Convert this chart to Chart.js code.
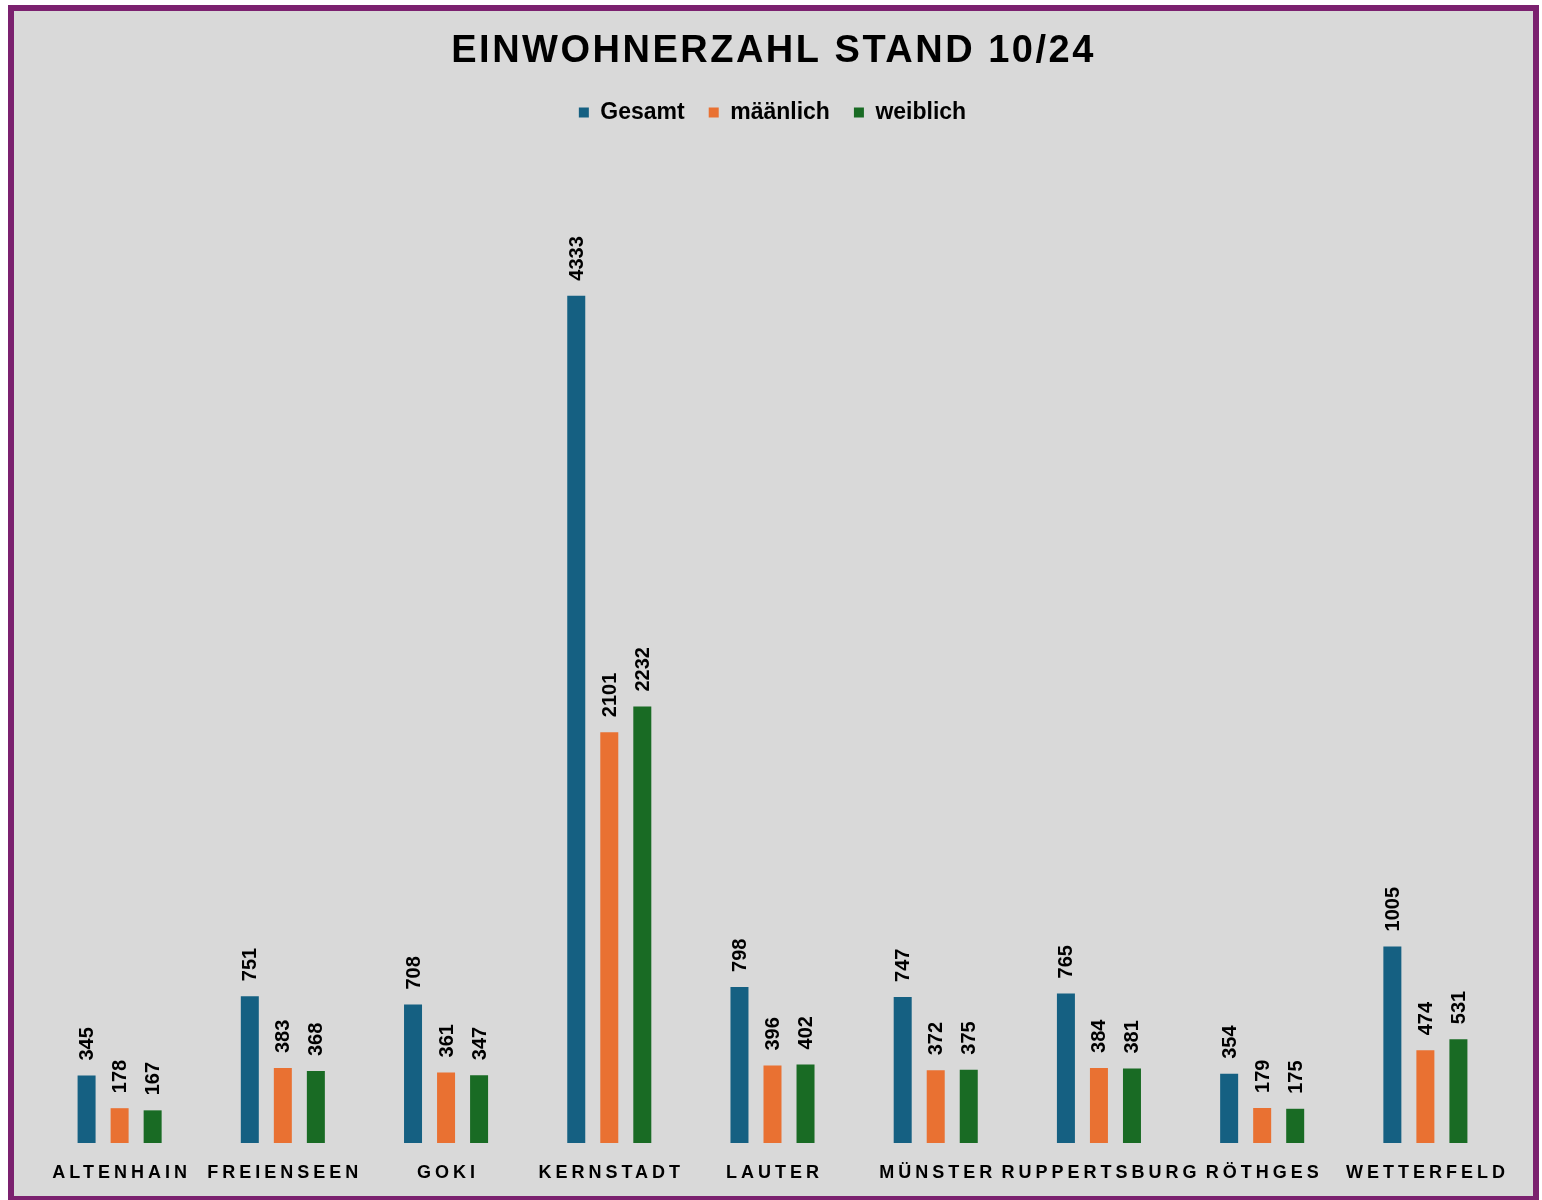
<!DOCTYPE html>
<html>
<head>
<meta charset="utf-8">
<script src="https://cdn.jsdelivr.net/npm/chart.js@4.4.1/dist/chart.umd.min.js"></script>
<style>
    body { margin: 0; background: #ffffff; }
    #frame {
        position: absolute; left: 8px; top: 5px; width: 1531px; height: 1197px;
        box-sizing: border-box; border: 6px solid #7B216F; background: #D9D9D9;
    }
    #chart { display: block; }
</style>
</head>
<body>
<div id="frame"><canvas id="chart" width="1519" height="1185"></canvas></div>
<script>
var titleText = 'EINWOHNERZAHL STAND 10/24';
var orte = ['ALTENHAIN', 'FREIENSEEN', 'GOKI', 'KERNSTADT', 'LAUTER', 'MÜNSTER', 'RUPPERTSBURG', 'RÖTHGES', 'WETTERFELD'];
var gesamt = [345, 751, 708, 4333, 798, 747, 765, 354, 1005];
var maennlich = [178, 383, 361, 2101, 396, 372, 384, 179, 474];
var weiblich = [167, 368, 347, 2232, 402, 375, 381, 175, 531];

var fontName = '"Liberation Sans", Arial, sans-serif';

// title, category names and value labels drawn by hand (letter spacing)
var textPlugin = {
    id: 'texts',
    afterDraw: function(chart) {
        var ctx = chart.ctx;
        var xScale = chart.scales.x;
        var area = chart.chartArea;

        ctx.save();
        ctx.fillStyle = '#000000';
        ctx.textBaseline = 'middle';
        ctx.textAlign = 'center';
        ctx.font = 'bold 38px ' + fontName;
        ctx.letterSpacing = '2.5px';
        ctx.fillText(titleText, chart.width / 2 + 0, 41);

        ctx.font = 'bold 18px ' + fontName;
        ctx.letterSpacing = '4px';
        orte.forEach(function(name, i) {
            ctx.fillText(name, xScale.getPixelForValue(i) + 2, area.bottom + 30);
        });

        ctx.letterSpacing = '0px';
        ctx.font = 'bold 20px ' + fontName;
        ctx.textAlign = 'left';
        chart.data.datasets.forEach(function(ds, di) {
            chart.getDatasetMeta(di).data.forEach(function(bar, i) {
                ctx.save();
                ctx.translate(bar.x, bar.y - 15);
                ctx.rotate(-Math.PI / 2);
                ctx.fillText(String(ds.data[i]), 0, 1);
                ctx.restore();
            });
        });
        ctx.restore();
    }
};

new Chart(document.getElementById('chart'), {
    type: 'bar',
    data: {
        labels: orte,
        datasets: [
            { label: 'Gesamt', data: gesamt, backgroundColor: '#156082' },
            { label: 'määnlich', data: maennlich, backgroundColor: '#E97132' },
            { label: 'weiblich', data: weiblich, backgroundColor: '#196B24' }
        ]
    },
    options: {
        responsive: false,
        animation: false,
        events: [],
        layout: { padding: { top: 66, left: 24, right: 26, bottom: 53 } },
        datasets: {
            bar: { categoryPercentage: 0.607, barPercentage: 0.545 }
        },
        scales: {
            x: { display: false },
            y: { display: false, min: 0, max: 5160 }
        },
        plugins: {
            title: { display: false },
            tooltip: { enabled: false },
            legend: {
                position: 'top',
                labels: {
                    color: '#000000',
                    font: { family: fontName, size: 23, weight: 'bold' },
                    boxWidth: 10,
                    boxHeight: 10,
                    padding: 24
                }
            }
        }
    },
    plugins: [textPlugin]
});
</script>
</body>
</html>
